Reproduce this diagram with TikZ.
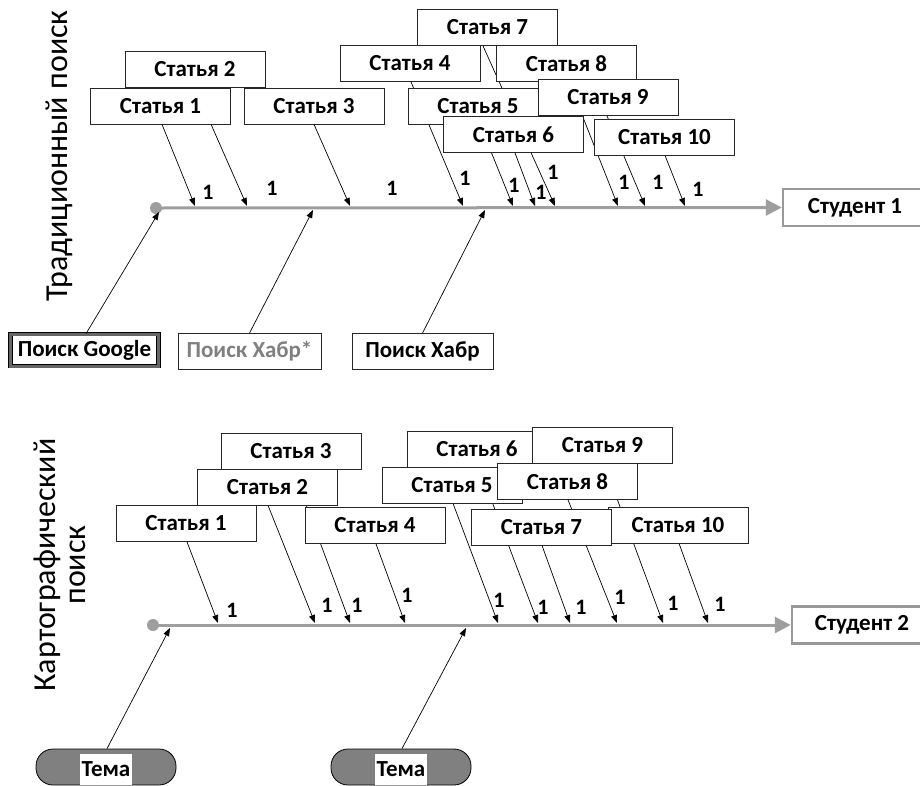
\documentclass[tikz,border=0pt]{standalone}
\usepackage{fontspec}
\setmainfont{Carlito}
\usetikzlibrary{arrows.meta}
\begin{document}
\begin{tikzpicture}[x=1pt,y=-1pt,
  bfont/.style={font=\fontsize{23}{26}\selectfont\bfseries},
  art/.style={draw=black!85,fill=white,line width=0.8pt,minimum width=140pt,minimum height=36pt,inner sep=0pt,bfont},
  con/.style={draw=black,line width=0.7pt,-{Triangle[length=8pt,width=6pt]}},
  one/.style={font=\fontsize{22}{24}\selectfont\bfseries,inner sep=0pt},
  spine/.style={draw=black!38,line width=3pt,-{Triangle[length=16pt,width=16pt]}},
  dotst/.style={circle,fill=black!38,minimum size=12pt,inner sep=0pt},
  stud/.style={draw=black!40,line width=2.5pt,fill=white,minimum height=37pt,inner sep=0pt,bfont},
  srch/.style={draw=black!85,fill=white,line width=0.8pt,minimum height=36pt,inner sep=0pt,bfont},
  pill/.style={draw=black,fill=black!50,line width=0.8pt,rounded corners=17pt,minimum width=140pt,minimum height=36pt,inner sep=0pt},
  tema/.style={fill=white,minimum width=52pt,minimum height=31pt,inner sep=0pt,bfont},
  vlab/.style={rotate=90,align=center,font=\fontsize{32}{30}\selectfont}
]
\useasboundingbox (0,0) rectangle (920,785);

% ---------------- top section ----------------
\node[vlab] (lab1) at (59,156) {Традиционный поиск};
\node[dotst] (dot1) at (156,208) {};
\node[stud,minimum width=144pt] (s1) at (855,207.5) {Студент 1};
\draw[spine] (dot1.center) -- (s1.west);

% tips on the spine
\foreach \n/\x in {1/195,2/247,3/350,4/463,5/513,6/535,7/555,8/618,9/645,10/685}
  \coordinate (e\n) at (\x,206);
\coordinate (g1) at (159,212);
\coordinate (g2) at (313,210);
\coordinate (g3) at (485,210);

% article boxes (placed first to name their anchors)
\path
  (195,69.5) node[art] (t2) {Статья 2}
  (160.5,106) node[art] (t1) {Статья 1}
  (314,106) node[art] (t3) {Статья 3}
  (487.5,27.5) node[art] (t7) {Статья 7}
  (410,63.5) node[art] (t4) {Статья 4}
  (566.5,63.5) node[art] (t8) {Статья 8}
  (478,106) node[art] (t5) {Статья 5}
  (608,97.5) node[art] (t9) {Статья 9}
  (513.5,134.5) node[art] (t6) {Статья 6}
  (664.5,137) node[art] (t10) {Статья 10};

% connectors (behind boxes)
\draw[con] ([xshift=1.5]t1.south) -- (e1);
\draw[con] ([xshift=0]t2.south) -- (e2);
\draw[con] ([xshift=0]t3.south) -- (e3);
\draw[con] ([xshift=1]t4.south) -- (e4);
\draw[con] ([xshift=2]t5.south) -- (e5);
\draw[con] ([xshift=1.5]t6.south) -- (e6);
\draw[con] ([xshift=-4.5]t7.south) -- (e7);
\draw[con] ([xshift=2.5]t8.south) -- (e8);
\draw[con] ([xshift=-1]t9.south) -- (e9);
\draw[con] ([xshift=0.5]t10.south) -- (e10);

% boxes again on top, in stacking order
\path
  (195,69.5) node[art] {Статья 2}
  (160.5,106) node[art] {Статья 1}
  (314,106) node[art] {Статья 3}
  (487.5,27.5) node[art] {Статья 7}
  (410,63.5) node[art] {Статья 4}
  (566.5,63.5) node[art] {Статья 8}
  (478,106) node[art] {Статья 5}
  (608,97.5) node[art] {Статья 9}
  (513.5,134.5) node[art] {Статья 6}
  (664.5,137) node[art] {Статья 10};

% labels "1"
\foreach \x/\y [count=\i] in {208/192,272/188,392/188,465/178,514/185,541/192,553/172,624/182,658/182,698/189}
  \node[one] (n\i) at (\x,\y) {1};

% search boxes
\node[draw=black,line width=0.6pt,double=black!60,double distance=3pt,fill=white,minimum width=148pt,minimum height=32pt,inner sep=0pt,bfont] (google) at (84.5,350) {Поиск Google};
\node[srch,minimum width=143pt,text=black!50] (habr2) at (249.5,351.5) {Поиск Хабр*};
\node[srch,minimum width=141pt] (habr) at (422.5,351.5) {Поиск Хабр};
\draw[con] ([xshift=1.5]google.north) -- (g1);
\draw[con] (habr2.north) -- (g2);
\draw[con] (habr.north) -- (g3);

% ---------------- bottom section ----------------
\node[vlab] (lab2) at (60,565) {Картографический\\поиск};
\node[dotst] (dot2) at (153,625) {};
\node[stud,minimum width=140pt] (s2) at (862,625) {Студент 2};
\draw[spine] (dot2.center) -- (s2.west);

\foreach \n/\x in {1/218,2/315,3/350,4/405,5/498,6/538,7/570,8/617,9/663,10/708}
  \coordinate (f\n) at (\x,623);
\coordinate (h1) at (170,628);
\coordinate (h2) at (466,628);

\path
  (291,451) node[art] (b3) {Статья 3}
  (267.5,487) node[art] (b2) {Статья 2}
  (186,523.5) node[art] (b1) {Статья 1}
  (375,525.5) node[art] (b4) {Статья 4}
  (477,449) node[art] (b6) {Статья 6}
  (602.5,445) node[art] (b9) {Статья 9}
  (452,485) node[art] (b5) {Статья 5}
  (567.5,481.5) node[art] (b8) {Статья 8}
  (678,525) node[art] (b10) {Статья 10}
  (541.5,527) node[art] (b7) {Статья 7};

\draw[con] ([xshift=1]b1.south) -- (f1);
\draw[con] ([xshift=0.5]b2.south) -- (f2);
\draw[con] ([xshift=2]b3.south) -- (f3);
\draw[con] ([xshift=1]b4.south) -- (f4);
\draw[con] ([xshift=1]b5.south) -- (f5);
\draw[con] ([xshift=2]b6.south) -- (f6);
\draw[con] ([xshift=0.5]b7.south) -- (f7);
\draw[con] ([xshift=0.5]b8.south) -- (f8);
\draw[con] ([xshift=1.5]b9.south) -- (f9);
\draw[con] ([xshift=1]b10.south) -- (f10);

\path
  (291,451) node[art] {Статья 3}
  (267.5,487) node[art] {Статья 2}
  (186,523.5) node[art] {Статья 1}
  (375,525.5) node[art] {Статья 4}
  (477,449) node[art] {Статья 6}
  (602.5,445) node[art] {Статья 9}
  (452,485) node[art] {Статья 5}
  (567.5,481.5) node[art] {Статья 8}
  (678,525) node[art] {Статья 10}
  (541.5,527) node[art] {Статья 7};

\foreach \x/\y [count=\i] in {232/610,327/605,357/605,407/595,499/600,543/607,581/607,620/597,673/603,720/604}
  \node[one] (m\i) at (\x,\y) {1};

% topic pills
\node[pill] (p1) at (106,767) {};
\node[tema] (tm1) at (106,769.5) {Тема};
\node[pill] (p2) at (401,767) {};
\node[tema] (tm2) at (401,769.5) {Тема};
\draw[con] ([xshift=1]p1.north) -- (h1);
\draw[con] ([xshift=1]p2.north) -- (h2);
\end{tikzpicture}
\end{document}
